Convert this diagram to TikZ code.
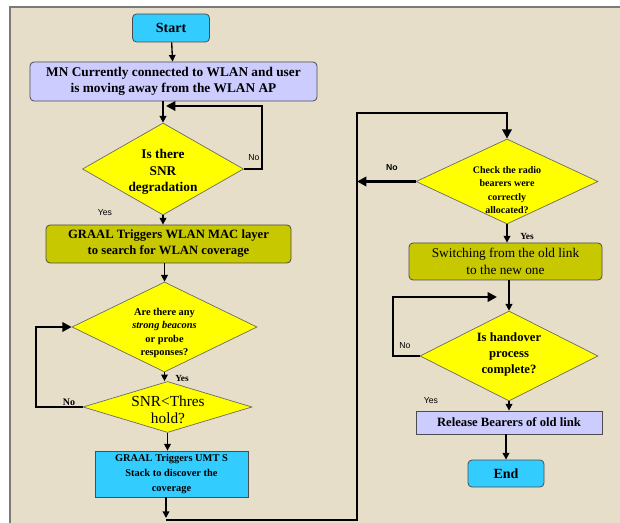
\documentclass[tikz,border=0pt]{standalone}
\usepackage{fontspec}
\setmainfont{Liberation Serif}
\newfontfamily\lsans{Liberation Sans}
\usetikzlibrary{shapes.geometric,arrows.meta}
\definecolor{bgbeige}{HTML}{E6DEC9}
\definecolor{framegray}{HTML}{7A7A7A}
\definecolor{cyanbox}{HTML}{33CCFF}
\definecolor{lavbox}{HTML}{CCCCFF}
\definecolor{olivebox}{HTML}{C8C800}
\definecolor{yellowdia}{HTML}{FFFF00}
\tikzset{
  box/.style={draw=black!70, line width=0.6pt, inner sep=0pt, align=center, font=\bfseries},
  rbox/.style={box, rounded corners=3pt},
  dia/.style={diamond, draw=black!60, line width=0.5pt, fill=yellowdia, inner sep=0pt},
  diatext/.style={align=center, inner sep=0pt, font=\bfseries},
  thinarrow/.style={line width=1pt, -{Triangle[length=5pt,width=5pt]}},
  thickarrow/.style={line width=2pt, line join=miter, -{Triangle[length=7pt,width=7pt]}},
  lbl/.style={inner sep=0pt, font=\lsans\fontsize{6.5}{7}\selectfont}
}
\begin{document}
\begin{tikzpicture}[x=0.75pt,y=-0.75pt]
\useasboundingbox (0,0) rectangle (620,523);
\fill[white] (0,0) rectangle (620,523);
\fill[bgbeige] (10,7) rectangle (625,530);
\draw[framegray, line width=1.2pt] (10,530) -- (10,7) -- (625,7);

% coordinates
\coordinate (c1) at (262,106);
\coordinate (j1) at (166,106);
\coordinate (c2) at (36,407);
\coordinate (c3) at (166,520);
\coordinate (c3a) at (166,518);
\coordinate (c4) at (357,520);
\coordinate (c5) at (357,113);
\coordinate (c6) at (357,181.5);
\coordinate (c7) at (393,356);
\coordinate (c8) at (497,297);

% left column
\node[rbox, fill=cyanbox, minimum width=57.75pt, minimum height=21pt, font=\bfseries\fontsize{10.5}{12}\selectfont] (start) at (171,28) {Start};
\node[rbox, fill=lavbox, minimum width=215.25pt, minimum height=29.25pt, font=\bfseries\fontsize{10}{12.5}\selectfont] (mn) at (173.5,81.5) {MN Currently connected to WLAN and user\\is moving away from the WLAN AP};
\node[dia, minimum width=120.75pt, minimum height=69pt] (d1) at (163,169) {};
\node[diatext, font=\bfseries\fontsize{10}{12.5}\selectfont] (t1) at (163,172) {Is there\\SNR\\degradation};
\node[rbox, fill=olivebox, minimum width=183.75pt, minimum height=28.5pt, font=\bfseries\fontsize{9.5}{12}\selectfont] (g1) at (168.5,244) {GRAAL Triggers WLAN MAC layer\\to search for WLAN coverage};
\node[dia, minimum width=138.75pt, minimum height=67.5pt] (d2) at (164.5,327) {};
\node[diatext, font=\bfseries\fontsize{7.8}{10}\selectfont] (t2) at (164.5,333) {Are there any\\\textit{strong beacons}\\or probe\\responses?};
\node[dia, minimum width=126.75pt, minimum height=38.25pt] (d3) at (167.5,407) {};
\node[diatext, font=\fontsize{11.5}{13}\selectfont] (t3) at (168,410) {SNR<Thres\\hold?};
\node[box, fill=cyanbox, minimum width=114.75pt, minimum height=34.5pt, font=\bfseries\fontsize{7.8}{11}\selectfont] (umts) at (171.5,474) {GRAAL Triggers UMT S\\Stack to discover the\\coverage};

% right column
\node[dia, minimum width=136.5pt, minimum height=63.75pt] (d4) at (507,181.5) {};
\node[diatext, font=\bfseries\fontsize{7.5}{10}\selectfont] (t4) at (507,190) {Check the radio\\bearers were\\correctly\\allocated?};
\node[rbox, fill=olivebox, minimum width=144.75pt, minimum height=27.75pt, font=\fontsize{10}{12.5}\selectfont] (sw) at (505.5,261.5) {Switching from the old link\\to the new one};
\node[dia, minimum width=133.5pt, minimum height=67.5pt] (d5) at (509,356) {};
\node[diatext, font=\bfseries\fontsize{9.5}{12}\selectfont] (t5) at (509,354) {Is handover\\process\\complete?};
\node[box, fill=lavbox, minimum width=139.5pt, minimum height=17.25pt, font=\bfseries\fontsize{9.5}{11}\selectfont] (rel) at (509,422.5) {Release Bearers of old link};
\node[rbox, fill=cyanbox, minimum width=57pt, minimum height=20.25pt, font=\bfseries\fontsize{10.5}{12}\selectfont] (end) at (506,473.5) {End};

% connectors
\draw[thinarrow] (start) -- (mn);
\draw[thinarrow] (d1.north |- mn.south) -- (d1.north);
\draw[thickarrow] (d1.east) -| (c1) -- (j1);
\draw[thinarrow] (d1.south) -- (d1.south |- g1.north);
\draw[thinarrow] (d2.north |- g1.south) -- (d2.north);
\draw[thinarrow] (d2.south) -- (d2.south |- d3.north);
\draw[thickarrow] (d3.west) -- (c2) |- (d2.west);
\draw[thinarrow] (d3.south) -- (d3.south |- umts.north);
\draw[thinarrow] (c3 |- umts.south) -- (c3a);
\draw[thickarrow] (c3) -- (c4) -- (c5) -| (d4.north);
\draw[thickarrow] (d4.west) -- (c6);
\draw[thinarrow] (d4.south) -- (d4.south |- sw.north);
\draw[thinarrow] (sw.south -| d5.north) -- (d5.north);
\draw[thickarrow] (d5.west) -- (c7) |- (c8);
\draw[thinarrow] (d5.south) -- (d5.south |- rel.north);
\draw[thinarrow] (rel.south -| end.north) -- (end.north);

% labels
\node[lbl] (n1) at (254,158) {No};
\node[lbl] (y1) at (105,213) {Yes};
\node[lbl, font=\bfseries\fontsize{7}{8}\selectfont] (y2) at (182,378) {Yes};
\node[lbl, font=\bfseries\fontsize{7.5}{8}\selectfont] (n2) at (69,402) {No};
\node[lbl, font=\lsans\bfseries\fontsize{6.5}{7}\selectfont] (n3) at (392,168) {No};
\node[lbl, font=\bfseries\fontsize{7}{8}\selectfont] (y3) at (527,236) {Yes};
\node[lbl] (n4) at (405,346) {No};
\node[lbl] (y4) at (431,401) {Yes};
\end{tikzpicture}
\end{document}
